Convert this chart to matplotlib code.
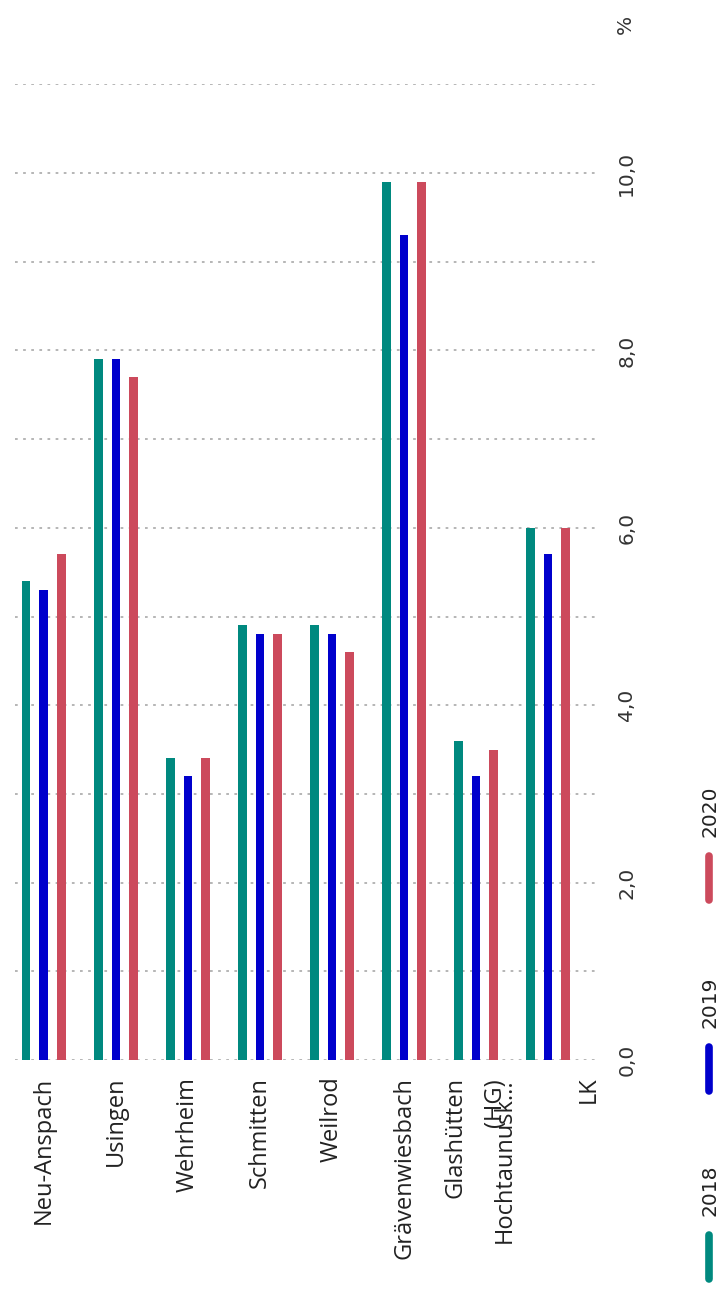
import numpy as np
import matplotlib.pyplot as plt
import matplotlib.transforms as mtransforms
from matplotlib.lines import Line2D

# Daten
categories = ["Neu-Anspach", "Usingen", "Wehrheim", "Schmitten", "Weilrod",
              "Grävenwiesbach", "Glashütten", "Hochtaunuskreis (HG) LK"]
tick_labels = ["Neu-Anspach", "Usingen", "Wehrheim", "Schmitten", "Weilrod",
               "Grävenwiesbach", "Glashütten", "LK"]
years = ["2018", "2019", "2020"]
v2018 = [5.4, 7.9, 3.4, 4.9, 4.9, 9.9, 3.6, 6.0]
v2019 = [5.3, 7.9, 3.2, 4.8, 4.8, 9.3, 3.2, 5.7]
v2020 = [5.7, 7.7, 3.4, 4.8, 4.6, 9.9, 3.5, 6.0]
colors = ["#00897F", "#0000CC", "#CC4A5C"]

W, H = 724, 1292
fig = plt.figure(figsize=(W / 100, H / 100), dpi=100)

def fx(px):
    return px / W

def fy(py):
    return 1 - py / H

y_top, y_zero = 84.3, 1060
ax = fig.add_axes([fx(15), fy(y_zero), fx(595) - fx(15), (y_zero - y_top) / H])

x = np.arange(len(categories))
offs = [-0.245, 0.0, 0.245]
for vals, off, c in zip([v2018, v2019, v2020], offs, colors):
    ax.bar(x + off, vals, width=0.12, color=c, zorder=3)

ax.set_xlim(-0.40, 7.65)
ax.set_ylim(0, 11)

for s in ax.spines.values():
    s.set_visible(False)

# Werteachse rechts, gedreht
yt = np.arange(0, 12)
ax.set_yticks(yt)
ax.set_yticklabels([f"{v:.1f}".replace(".", ",") if v % 2 == 0 else "" for v in yt])
ax.yaxis.tick_right()
ax.tick_params(axis="y", length=0, pad=16, labelsize=14.5, labelcolor="#333333")
for lab in ax.get_yticklabels():
    lab.set_rotation(90)
    lab.set_va("center")
    lab.set_ha("left")
ax.grid(axis="y", color="#b0b0b0", linestyle=(0, (1.5, 3)), linewidth=1.3, zorder=0)

# Kategorien unten, gedreht
ax.set_xticks(x)
ax.set_xticklabels(tick_labels, rotation=90, va="top", ha="center",
                   fontsize=17, family="Open Sans", color="#222222")
ax.tick_params(axis="x", length=0, pad=12)
xl = ax.get_xticklabels()
xl[6].set_transform(xl[6].get_transform() + mtransforms.ScaledTranslation(-21 / 100, 0, fig.dpi_scale_trans))
xl[7].set_transform(xl[7].get_transform() + mtransforms.ScaledTranslation(41 / 100, 0, fig.dpi_scale_trans))

trans = mtransforms.blended_transform_factory(ax.transData, ax.transAxes)
for txt, dx in [("Hochtaunusk...", -43), ("(HG)", -53)]:
    ax.text(7, 0, txt, transform=trans + mtransforms.ScaledTranslation(dx / 100, -18 / 100, fig.dpi_scale_trans),
            rotation=90, va="top", ha="center", fontsize=17, family="Open Sans", color="#222222")

# Einheit
fig.text(fx(625), fy(24), "%", rotation=90, ha="center", va="center", fontsize=14.5, color="#333333")

# Legende (gedreht)
for yr, c, ty in zip(years, colors, [1190, 1002, 811]):
    my = ty + 67
    fig.add_artist(Line2D([fx(709), fx(709)], [fy(my - 22), fy(my + 22)],
                          color=c, linewidth=5.5, solid_capstyle="round"))
    fig.text(fx(710), fy(ty), yr, rotation=90, ha="center", va="center", fontsize=14.5,
             color="#222222")

fig.savefig("out.png", dpi=100)
